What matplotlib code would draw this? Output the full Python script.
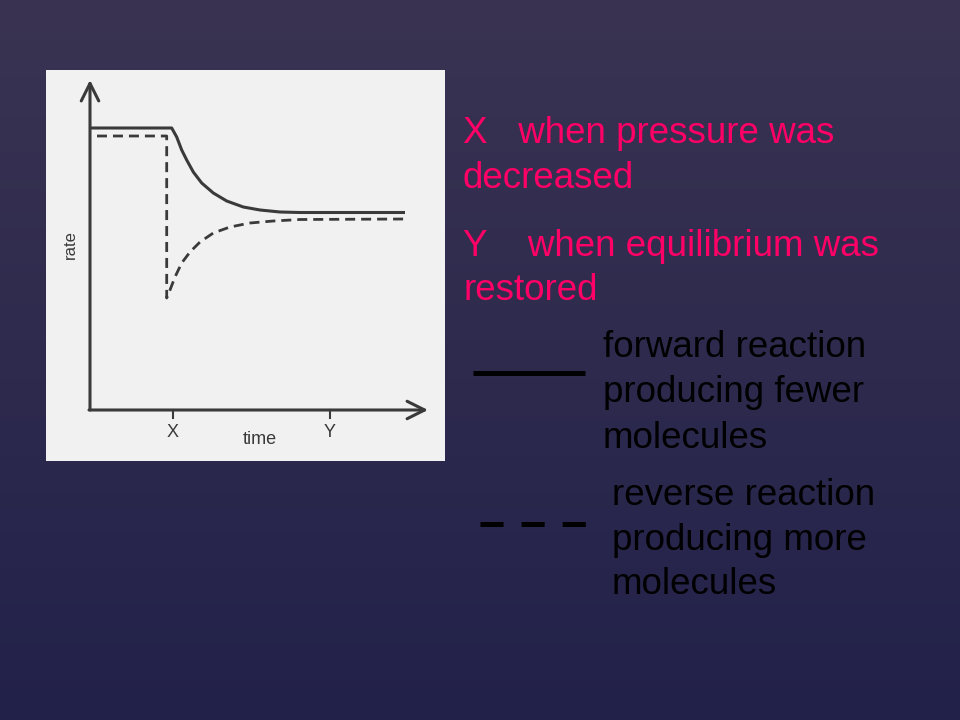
import numpy as np
import matplotlib
matplotlib.use('Agg')
import matplotlib.pyplot as plt

plt.rcParams['font.family'] = ['Liberation Sans', 'DejaVu Sans']
plt.rcParams['lines.scale_dashes'] = False

# forward reaction (solid)
fwd_time = [0, 8.17, 8.67, 9.17, 9.67, 10.33, 11.17, 12.33, 13.67, 15.33,
            17.0, 19.0, 21.0, 31.5]
fwd_rate = [28.2, 28.2, 27.3, 26.0, 25.0, 23.8, 22.7, 21.7, 20.9, 20.3,
            20.0, 19.8, 19.75, 19.75]

# reverse reaction (dashed)
rev_time = [0.7, 7.67, 7.67, 8.0, 8.5, 9.17, 10.0, 11.0, 12.33, 14.0, 16.0,
            18.33, 21.0, 31.5]
rev_rate = [27.4, 27.4, 11.2, 12.0, 13.3, 14.7, 15.8, 16.8, 17.7, 18.3,
            18.7, 18.9, 19.05, 19.1]

tick_pos = [8.3, 24.0]
tick_labels = ['X', 'Y']

pink_lines = ['X   when pressure was', 'decreased',
              'Y    when equilibrium was', 'restored']
fwd_label = ['forward reaction', 'producing fewer', 'molecules']
rev_label = ['reverse reaction', 'producing more', 'molecules']

W, H = 960, 720
fig = plt.figure(figsize=(W / 100, H / 100), dpi=100)


def fx(x):
  return x / W


def fy(y):
  return 1 - y / H


# slide background, navy gradient
bg = fig.add_axes([0, 0, 1, 1])
top = np.array([58, 52, 82]) / 255
bot = np.array([34, 33, 74]) / 255
t = np.linspace(0, 1, 256)[:, None, None]
grad = top * (1 - t) + bot * t
grad = np.repeat(grad, 4, axis=1)
bg.imshow(grad, aspect='auto', extent=[0, 1, 0, 1], origin='upper')
bg.set_xlim(0, 1)
bg.set_ylim(0, 1)
bg.axis('off')

# the scanned graph panel
ax = fig.add_axes([fx(46), fy(461), fx(445) - fx(46), fy(70) - fy(461)])
ax.set_facecolor('#f1f1f1')
ax.set_xlim(-4.4, 35.5)
ax.set_ylim(-5.1, 34.0)
ax.set_xticks([])
ax.set_yticks([])
for s in ax.spines.values():
  s.set_visible(False)

ink = '#3a3a3a'
arrow = dict(arrowstyle='->,head_length=0.7,head_width=0.35', color=ink,
             lw=2.2, mutation_scale=18, shrinkA=0, shrinkB=0)
ax.annotate('', xy=(0, 33.0), xytext=(0, 0), arrowprops=arrow)
ax.annotate('', xy=(33.8, 0), xytext=(-0.1, 0), arrowprops=arrow)

for p in tick_pos:
  ax.plot([p, p], [0, -0.8], color=ink, lw=1.5)
for p, lab in zip(tick_pos, tick_labels):
  ax.text(p, -1.4, lab, ha='center', va='top', fontsize=13, color=ink,
          fontstretch='condensed')

ax.text(17.0, -2.1, 'time', ha='center', va='top', fontsize=13, color=ink)
ax.text(-2.0, 16.5, 'rate', ha='center', va='center', rotation=90,
        fontsize=12, color=ink)

ax.plot(fwd_time, fwd_rate, color=ink, lw=2.2, solid_capstyle='butt',
        solid_joinstyle='round')
ax.plot(rev_time, rev_rate, color=ink, lw=2.0, dashes=(7.2, 4.3),
        dash_capstyle='butt')

# right-hand text
pink = '#ff0066'
for y, s in zip([143, 188, 256, 300], pink_lines):
  fig.text(fx(463), fy(y), s, color=pink, fontsize=26.5, va='baseline')

for y, s in zip([357, 402, 448], fwd_label):
  fig.text(fx(603), fy(y), s, color='black', fontsize=26.5, va='baseline')
for y, s in zip([505, 550, 594], rev_label):
  fig.text(fx(612), fy(y), s, color='black', fontsize=26.5, va='baseline')

# legend keys
bg.plot([fx(473), fx(585)], [fy(373), fy(373)], color='black', lw=3.6,
        solid_capstyle='butt')
bg.plot([fx(480), fx(587)], [fy(524), fy(524)], color='black', lw=3.6,
        dashes=(16.6, 13), dash_capstyle='butt')

fig.savefig('out.png', dpi=100)
